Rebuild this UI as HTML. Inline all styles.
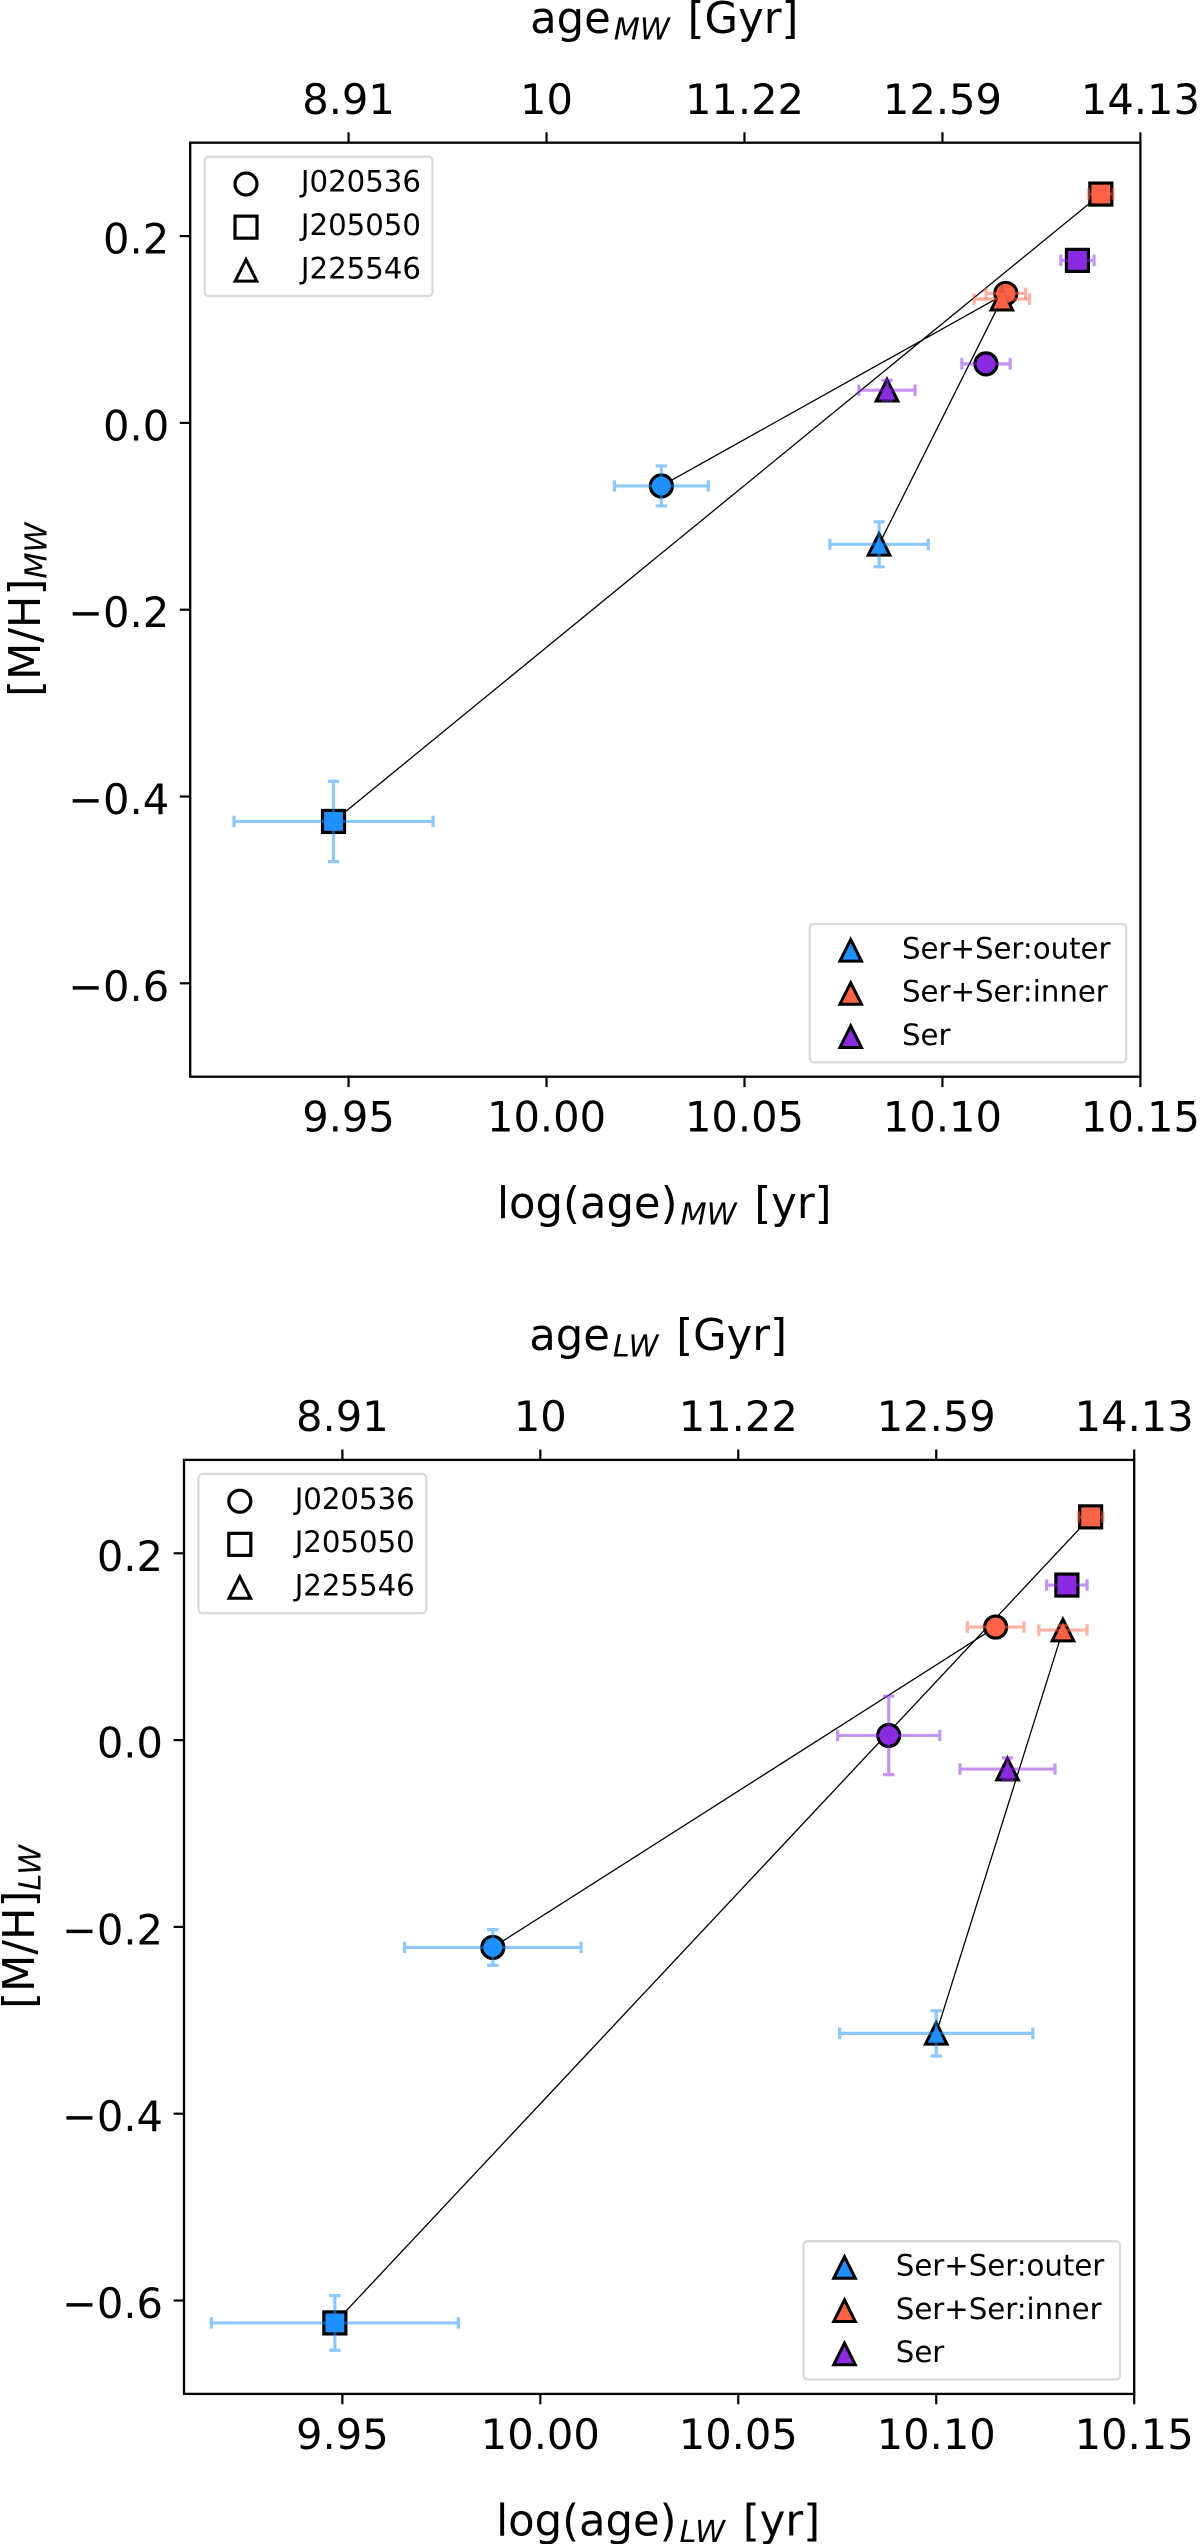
<!DOCTYPE html>
<html lang="en">
<head>
<meta charset="utf-8">
<title>Mass- and light-weighted age vs metallicity</title>
<style>
html,body{margin:0;padding:0;background:#fff;}
svg{display:block;}
text{font-family:"DejaVu Sans","Liberation Sans",sans-serif;fill:#000;}
</style>
</head>
<body>
<svg id="figure" xmlns="http://www.w3.org/2000/svg" width="1200" height="2544" viewBox="0 0 1200 2544"></svg>
<script>
const sourceNames = ['J020536', 'J205050', 'J225546'];
const componentNames = ['Ser+Ser:outer', 'Ser+Ser:inner', 'Ser'];
const xTickValues = [9.95, 10.00, 10.05, 10.10, 10.15];
const xTickLabels = ['9.95', '10.00', '10.05', '10.10', '10.15'];
const topTickLabels = ['8.91', '10', '11.22', '12.59', '14.13'];
const yTickValues = [0.2, 0.0, -0.2, -0.4, -0.6];
const yTickLabels = ['0.2', '0.0', '\u22120.2', '\u22120.4', '\u22120.6'];

/* Each array is ordered like sourceNames: J020536, J205050, J225546 */
const mwLogAgeOuter = [10.029, 9.9462, 10.084];
const mwLogAgeInner = [10.116, 10.140, 10.115];
const mwLogAgeSer = [10.111, 10.1341, 10.086];
const mwMetalOuter = [-0.0675, -0.4267, -0.13];
const mwMetalInner = [0.1386, 0.245, 0.1325];
const mwMetalSer = [0.0632, 0.174, 0.035];
const mwAgeErrOuter = [0.01185, 0.02514, 0.01242];
const mwAgeErrInner = [0.005, 0.0031, 0.007];
const mwAgeErrSer = [0.0061, 0.0042, 0.0071];
const mwMetalErrOuter = [0.0214, 0.043, 0.0241];
const mwMetalErrInner = [0.004, 0.003, 0.005];
const mwMetalErrSer = [0.004, 0.004, 0.0107];

const lwLogAgeOuter = [9.988, 9.9481, 10.1];
const lwLogAgeInner = [10.115, 10.139, 10.132];
const lwLogAgeSer = [10.088, 10.133, 10.118];
const lwMetalOuter = [-0.222, -0.624, -0.314];
const lwMetalInner = [0.121, 0.239, 0.1178];
const lwMetalSer = [0.005, 0.166, -0.031];
const lwAgeErrOuter = [0.0223, 0.0312, 0.0244];
const lwAgeErrInner = [0.00715, 0.0031, 0.0061];
const lwAgeErrSer = [0.0129, 0.0051, 0.012];
const lwMetalErrOuter = [0.0191, 0.0293, 0.0243];
const lwMetalErrInner = [0.004, 0.003, 0.005];
const lwMetalErrSer = [0.042, 0.004, 0.012];

const SVGNS = 'http://www.w3.org/2000/svg';
const COLORS = ['#1E90FF', '#FF6347', '#8A2BE2'];
const SHAPES = ['circle', 'square', 'triangle'];
const XMIN = 9.91, XMAX = 10.15, YMIN = -0.7, YMAX = 0.3;
const figure = document.getElementById('figure');

function make(parent, tag, attrs, text) {
  const el = document.createElementNS(SVGNS, tag);
  for (const k in attrs) el.setAttribute(k, attrs[k]);
  if (text !== undefined) el.textContent = text;
  parent.appendChild(el);
  return el;
}

function drawMarker(parent, shape, cx, cy, fill, name) {
  const r = 11, h = 10.8, sw = 3.2;
  let el;
  if (shape === 'circle') {
    el = make(parent, 'circle', {cx: cx, cy: cy, r: r, fill: fill, stroke: '#000', 'stroke-width': sw});
  } else if (shape === 'square') {
    el = make(parent, 'rect', {x: cx - r, y: cy - r, width: 2 * r, height: 2 * r, fill: fill, stroke: '#000', 'stroke-width': sw, 'stroke-linejoin': 'miter'});
  } else {
    el = make(parent, 'polygon', {points: cx + ',' + (cy - h) + ' ' + (cx - h) + ',' + (cy + h) + ' ' + (cx + h) + ',' + (cy + h), fill: fill, stroke: '#000', 'stroke-width': 3, 'stroke-linejoin': 'miter'});
  }
  
  
  return el;
}

function drawLabel(parent, x, y, before, sub, after, name, rotate) {
  const attrs = {x: x, y: y, 'font-size': 43.3, 'text-anchor': 'middle'};
  if (rotate) attrs.transform = 'rotate(-90 ' + x + ' ' + y + ')';
  const t = make(parent, 'text', attrs);
  
  
  make(t, 'tspan', {}, before);
  make(t, 'tspan', {'font-style': 'italic', 'font-size': 30.3, dy: 6.5, dx: rotate ? 0 : 3}, sub);
  const tail = make(t, 'tspan', {dy: -6.5, dx: rotate ? 0 : 4}, after);
  tail.setAttribute('xml:space', 'preserve');
  t.setAttribute('style', 'white-space:pre');
  return t;
}

function drawPanel(p) {
  const g = make(figure, 'g', {});
  
  
  const w = 950.2, h = 934;
  const xs = v => p.left + (v - XMIN) / (XMAX - XMIN) * w;
  const ys = v => p.top + (YMAX - v) / (YMAX - YMIN) * h;
  const right = p.left + w, bottom = p.top + h;

  /* connecting lines outer -> inner for each source */
  sourceNames.forEach((s, i) => {
    const ln = make(g, 'line', {x1: xs(p.age[0][i]), y1: ys(p.metal[0][i]), x2: xs(p.age[1][i]), y2: ys(p.metal[1][i]), stroke: '#000', 'stroke-width': 1.3});
    
    
  });

  /* markers */
  componentNames.forEach((c, ci) => {
    sourceNames.forEach((s, si) => {
      drawMarker(g, SHAPES[si], xs(p.age[ci][si]), ys(p.metal[ci][si]), COLORS[ci], 'point-' + s + '-' + ci);
    });
  });

  if (p.haze) {
    const haze = make(g, 'circle', {cx: xs(p.age[1][0]), cy: ys(p.metal[1][0]), r: 9.6, fill: COLORS[1], opacity: 0.82});
    
    
  }

  /* error bars */
  const cap = 5.7;
  componentNames.forEach((c, ci) => {
    sourceNames.forEach((s, si) => {
      const cx = xs(p.age[ci][si]), cy = ys(p.metal[ci][si]);
      const x0 = xs(p.age[ci][si] - p.ageErr[ci][si]), x1 = xs(p.age[ci][si] + p.ageErr[ci][si]);
      const y0 = ys(p.metal[ci][si] - p.metalErr[ci][si]), y1 = ys(p.metal[ci][si] + p.metalErr[ci][si]);
      const d = 'M' + x0 + ' ' + cy + 'H' + x1 + 'M' + x0 + ' ' + (cy - cap) + 'V' + (cy + cap) + 'M' + x1 + ' ' + (cy - cap) + 'V' + (cy + cap) +
        'M' + cx + ' ' + y0 + 'V' + y1 + 'M' + (cx - cap) + ' ' + y0 + 'H' + (cx + cap) + 'M' + (cx - cap) + ' ' + y1 + 'H' + (cx + cap);
      const e = make(g, 'path', {d: d, fill: 'none', stroke: COLORS[ci], 'stroke-width': 3.2, 'stroke-opacity': 0.5});
      
      
    });
  });

  /* frame */
  const frame = make(g, 'rect', {x: p.left, y: p.top, width: w, height: h, fill: 'none', stroke: '#000', 'stroke-width': 2.3});
  
  

  /* x ticks, bottom + top */
  xTickValues.forEach((v, i) => {
    const x = xs(v);
    const tb = make(g, 'line', {x1: x, x2: x, y1: bottom, y2: bottom + 10.4, stroke: '#000', 'stroke-width': 2.2});
    
    
    const tt = make(g, 'line', {x1: x, x2: x, y1: p.top, y2: p.top - 10.4, stroke: '#000', 'stroke-width': 2.2});
    
    
    const lb = make(g, 'text', {x: x, y: bottom + 55, 'font-size': 41.6, 'text-anchor': 'middle'}, xTickLabels[i]);
    
    
    const lt = make(g, 'text', {x: x, y: p.top - 28.7, 'font-size': 41.6, 'text-anchor': 'middle'}, topTickLabels[i]);
    
    
  });

  /* y ticks */
  yTickValues.forEach((v, i) => {
    const y = ys(v);
    const t = make(g, 'line', {x1: p.left, x2: p.left - 10.4, y1: y, y2: y, stroke: '#000', 'stroke-width': 2.2});
    
    
    const l = make(g, 'text', {x: p.left - 21, y: y + 17.5, 'font-size': 41.6, 'text-anchor': 'end'}, yTickLabels[i]);
    
    
  });

  /* axis titles */
  drawLabel(g, p.left + w / 2 - 1, p.top - 109.7, 'age', p.tag, ' [Gyr]', 'top-x-axis-title');
  drawLabel(g, p.left + w / 2 - 1, bottom + 141.4, 'log(age)', p.tag, ' [yr]', 'x-axis-title');
  drawLabel(g, p.left - 150.2, p.top + h / 2, '[M/H]', p.tag, '', 'y-axis-title', true);

  /* source legend */
  const sl = make(g, 'g', {});
  
  
  const slBox = make(sl, 'rect', {x: p.left + 14.5, y: p.top + 14, width: 227.8, height: 139.3, rx: 4, fill: '#fff', 'fill-opacity': 0.8, stroke: '#dadada', 'stroke-width': 2.3});
  
  
  sourceNames.forEach((s, i) => {
    drawMarker(sl, SHAPES[i], p.left + 55.8, p.top + 41.3 + i * 43.15, '#fff', 'legend-marker-' + s);
    const t = make(sl, 'text', {x: p.left + 110.7, y: p.top + 49 + i * 43.3, 'font-size': 29.2}, s);
    
    
  });

  /* component legend */
  const cl = make(g, 'g', {});
  
  
  const clBox = make(cl, 'rect', {x: p.left + 619.5, y: p.top + 781.3, width: 316.5, height: 138.3, rx: 4, fill: '#fff', 'fill-opacity': 0.8, stroke: '#dadada', 'stroke-width': 2.3});
  
  
  componentNames.forEach((c, i) => {
    drawMarker(cl, 'triangle', p.left + 660.5, p.top + 807.6 + i * 43.2, COLORS[i], 'legend-marker-' + c);
    const t = make(cl, 'text', {x: p.left + 711.8, y: p.top + 815.6 + i * 43.35, 'font-size': 29.2}, c);
    
    
  });
}

drawPanel({
  id: 'mass-weighted', tag: 'MW', left: 190.2, top: 142.7, haze: true,
  age: [mwLogAgeOuter, mwLogAgeInner, mwLogAgeSer],
  metal: [mwMetalOuter, mwMetalInner, mwMetalSer],
  ageErr: [mwAgeErrOuter, mwAgeErrInner, mwAgeErrSer],
  metalErr: [mwMetalErrOuter, mwMetalErrInner, mwMetalErrSer]
});
drawPanel({
  id: 'light-weighted', tag: 'LW', left: 184, top: 1459.9, haze: false,
  age: [lwLogAgeOuter, lwLogAgeInner, lwLogAgeSer],
  metal: [lwMetalOuter, lwMetalInner, lwMetalSer],
  ageErr: [lwAgeErrOuter, lwAgeErrInner, lwAgeErrSer],
  metalErr: [lwMetalErrOuter, lwMetalErrInner, lwMetalErrSer]
});
</script>
</body>
</html>
